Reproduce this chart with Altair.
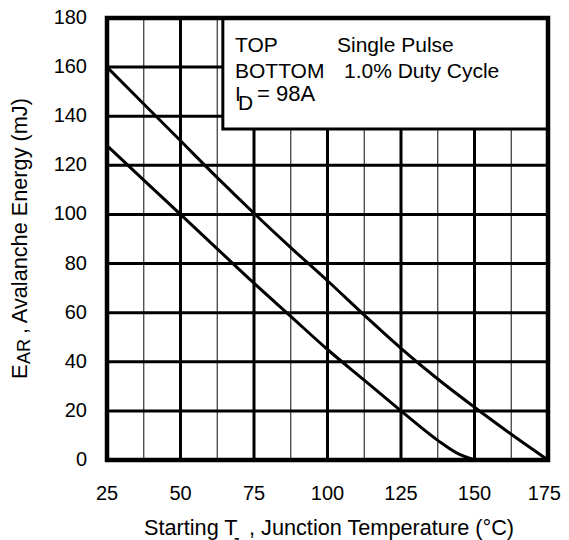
import altair as alt
import pandas as pd

# ---- data ----
temp_top = [25, 37.5, 50, 62.5, 75, 87.5, 100, 112.5, 125, 137.5, 150, 162.5, 175]
energy_top = [160, 145, 130, 115, 100.5, 86.5, 73, 59, 45.5, 33, 21.5, 10.5, 0]
temp_bottom = [25, 37.5, 50, 62.5, 75, 87.5, 100, 112.5, 125, 137.5, 143.75, 150]
energy_bottom = [128, 114, 100, 86, 72, 58.5, 45, 32.5, 20, 8, 3, 0]

x_ticks = [25, 50, 75, 100, 125, 150, 175]
y_ticks = [0, 20, 40, 60, 80, 100, 120, 140, 160, 180]
x_major_grid = [50, 75, 100, 125, 150]
x_minor_grid = [37.5, 62.5, 87.5, 112.5, 137.5, 162.5]
y_grid = [20, 40, 60, 80, 100, 120, 140, 160]
legend_box_x = [64.4, 175]
legend_box_y = [134.8, 180]
frame_x = [25, 175]
frame_y = [0, 180]

FONT = "Liberation Sans"
W, H = 441, 442

xs = alt.Scale(domain=[25, 175], nice=False, zero=False)
ys = alt.Scale(domain=[0, 180], nice=False, zero=True)

curves = pd.concat([
    pd.DataFrame({"t": temp_top, "e": energy_top, "s": "Single Pulse"}),
    pd.DataFrame({"t": temp_bottom, "e": energy_bottom, "s": "1.0% Duty Cycle"}),
])

minor = alt.Chart(pd.DataFrame({"gx": x_minor_grid})).mark_rule(
    color="#333333", strokeWidth=1.2
).encode(x=alt.X("gx:Q", scale=xs, axis=None))

major = alt.Chart(pd.DataFrame({"gx": x_major_grid})).mark_rule(
    color="black", strokeWidth=3
).encode(x=alt.X("gx:Q", scale=xs, axis=None))

hgrid = alt.Chart(pd.DataFrame({"gy": y_grid})).mark_rule(
    color="black", strokeWidth=3
).encode(y=alt.Y("gy:Q", scale=ys, axis=None))

lines = alt.Chart(curves).mark_line(
    color="black", strokeWidth=3, interpolate="monotone"
).encode(
    x=alt.X("t:Q", scale=xs, axis=None),
    y=alt.Y("e:Q", scale=ys, axis=None),
    detail="s:N",
)

xlab = alt.Chart(pd.DataFrame({"v": x_ticks[:-1]})).mark_text(
    font=FONT, fontSize=20, color="black", align="center", baseline="alphabetic"
).encode(x=alt.X("v:Q", scale=xs, axis=None), y=alt.value(482), text="v:Q")

# last label kept inside the page's right edge
xlab_last = alt.Chart(pd.DataFrame({"v": x_ticks[-1:]})).mark_text(
    font=FONT, fontSize=20, color="black", align="right", baseline="alphabetic", dx=13
).encode(x=alt.X("v:Q", scale=xs, axis=None), y=alt.value(482), text="v:Q")

ylab = alt.Chart(pd.DataFrame({"v": y_ticks})).mark_text(
    font=FONT, fontSize=20, color="black", align="right", baseline="middle"
).encode(x=alt.value(-20), y=alt.Y("v:Q", scale=ys, axis=None), text="v:Q")

box = alt.Chart(pd.DataFrame({
    "x1": [legend_box_x[0]], "x2": [legend_box_x[1]],
    "y1": [legend_box_y[0]], "y2": [legend_box_y[1]]})).mark_rect(
    fill="white", stroke="black", strokeWidth=3
).encode(
    x=alt.X("x1:Q", scale=xs, axis=None), x2="x2:Q",
    y=alt.Y("y1:Q", scale=ys, axis=None), y2="y2:Q",
)

frame = alt.Chart(pd.DataFrame({
    "x1": [frame_x[0]], "x2": [frame_x[1]],
    "y1": [frame_y[0]], "y2": [frame_y[1]]})).mark_rect(
    filled=False, stroke="black", strokeWidth=4.5
).encode(
    x=alt.X("x1:Q", scale=xs, axis=None), x2="x2:Q",
    y=alt.Y("y1:Q", scale=ys, axis=None), y2="y2:Q",
)

one = pd.DataFrame({"a": [0]})


def txt(s, x, y, size=21, angle=0):
    kw = dict(text=s, font=FONT, fontSize=size, color="black",
              align="left", baseline="alphabetic")
    if angle:
        kw["angle"] = angle
    return alt.Chart(one).mark_text(**kw).encode(x=alt.value(x), y=alt.value(y))


texts = [
    # legend box
    txt("TOP", 128, 34),
    txt("Single Pulse", 230, 34),
    txt("BOTTOM", 128, 60),
    txt("1.0% Duty Cycle", 237, 60),
    txt("I", 128, 83),
    txt("D", 131, 91.5),
    txt("= 98A", 150, 83, 22),
    # x title
    txt("Starting T", 37, 517, 21.7),
    txt("J", 124, 533, 18),
    txt(", Junction Temperature (°C)", 142, 517, 21.7),
    # y title
    txt("E", -80, 361, 22, 270),
    txt("AR", -77, 346, 18, 270),
    txt(", Avalanche Energy (mJ)", -80, 316, 21.7, 270),
]

chart = alt.layer(minor, major, hgrid, lines, xlab, xlab_last, ylab, box, *texts, frame).properties(
    width=W, height=H,
    autosize=alt.AutoSizeParams(type="none"),
    padding={"left": 99, "top": 10, "right": 13, "bottom": 90},
).configure_view(stroke=None)

chart.save("out.html", embed_options={"renderer": "svg", "actions": False})
